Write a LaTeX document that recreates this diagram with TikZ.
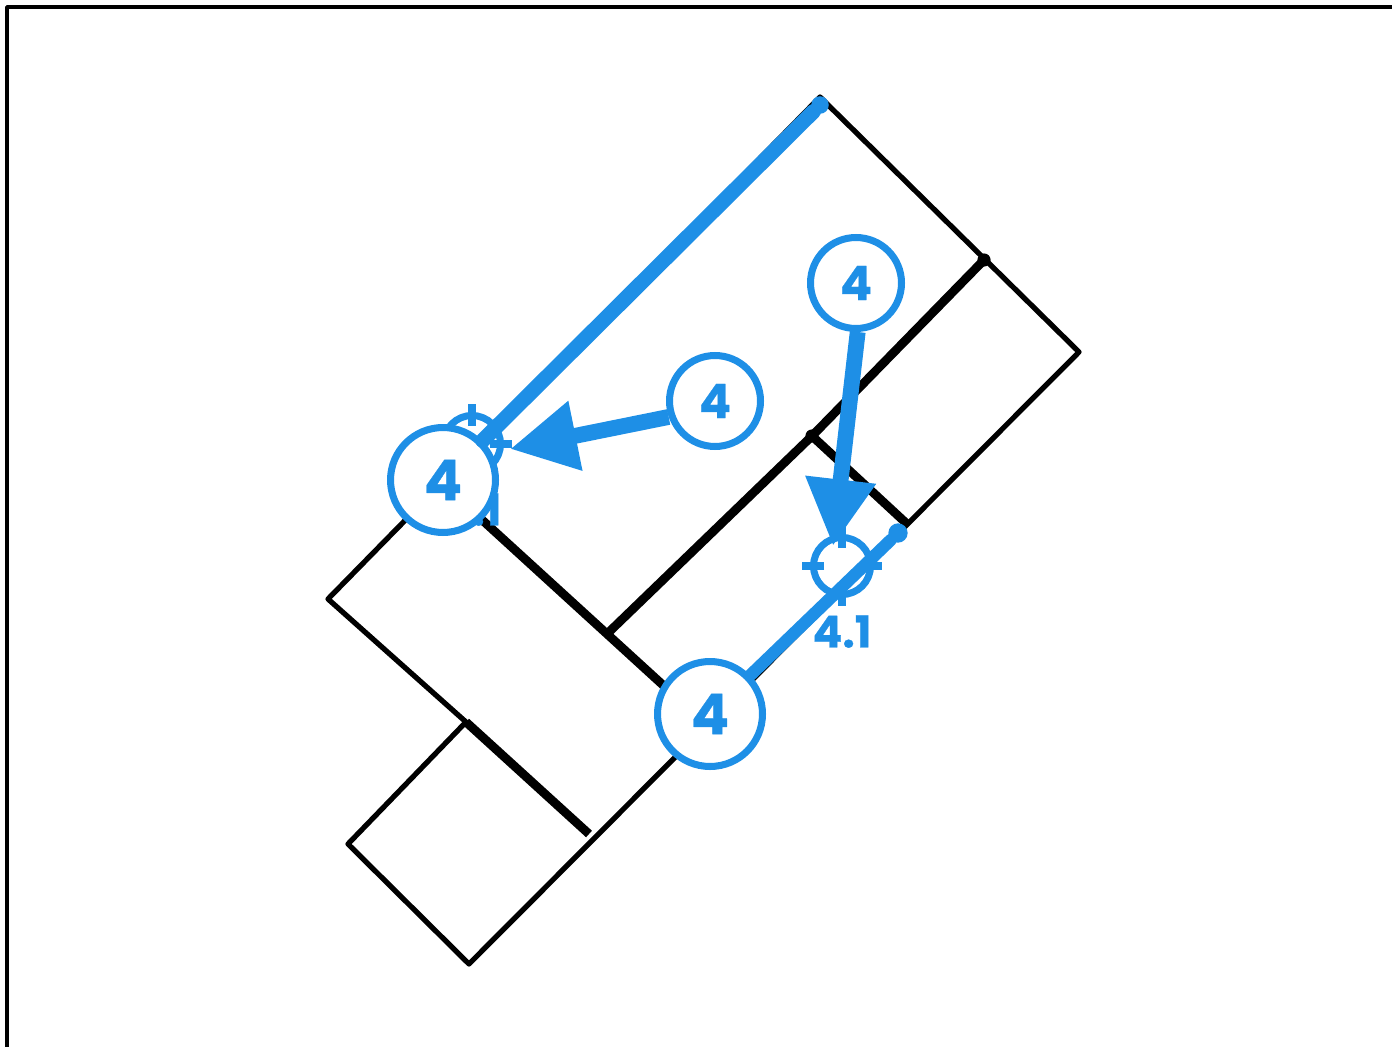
\documentclass[tikz,border=0pt]{standalone}
\usepackage{fontspec}
\setsansfont{Poppins}[BoldFeatures={FakeBold=0.6}]
\usetikzlibrary{arrows.meta,positioning}
\definecolor{markblue}{HTML}{1E8FE6}

\begin{document}
\begin{tikzpicture}[x=0.02cm,y=-0.02cm,line join=round,
        thinwall/.style={draw=black, line width=3pt},
        thickwall/.style={draw=black, line width=5pt},
        jointdot/.style={circle, fill=black, inner sep=0pt, minimum width=7.5pt},
        badge/.style={circle, draw=markblue, fill=white, line width=4pt, inner sep=0pt,
                        text=markblue, font=\sffamily\bfseries\fontsize{27}{27}\selectfont, minimum size=1.82cm},
        bigbadge/.style={badge, font=\sffamily\bfseries\fontsize{32}{32}\selectfont, minimum size=2.10cm},
        target/.style={circle, draw=markblue, line width=4pt, inner sep=0pt, minimum size=1.14cm},
        targettick/.style={draw=markblue, line width=4.2pt},
        targetlabel/.style={text=markblue, inner sep=0pt, font=\sffamily\bfseries\fontsize{25}{25}\selectfont},
        leader/.style={draw=markblue, line width=9pt, -{Triangle[length=38pt,width=38pt]}},
        span/.style={draw=markblue, line cap=round},
        spandot/.style={circle, fill=markblue, inner sep=0pt}]
    \useasboundingbox (0,0) rectangle (1392,1047);
    \draw[black, line width=2pt] (7,1047) -- (7,7) -- (1392,7);

    % walls
    \coordinate (top) at (820,97);
    \coordinate (east) at (1079,352);
    \coordinate (south) at (469,964);
    \coordinate (swest) at (348,844);
    \coordinate (west) at (328,599);
    \coordinate (stub) at (466,722);
    \coordinate (stubend) at (589,834);
    \coordinate (inner) at (480,518);
    \coordinate (innerend) at (664,686);
    \coordinate (tee) at (609,632);
    \coordinate (knee) at (812,436);
    \coordinate (ridge) at (984,260);
    \coordinate (jamb) at (906,523);
    \draw[thinwall] (top) -- (east) -- (south) -- (swest) -- (stub) -- (west) -- cycle;
    \draw[thickwall] (stub) -- (stubend);
    \draw[thickwall] (inner) -- (innerend);
    \draw[thickwall] (tee) -- (knee) -- (ridge);
    \draw[thickwall] (knee) -- (jamb);
    \node[jointdot] at (ridge) {};
    \node[jointdot] at (knee) {};

    % targets
    \node[target] (t1) at (472,444) {};
    \node[target] (t2) at (842,566) {};
    \foreach \t in {t1,t2} {
        \foreach \a in {0,90,180,270} {
            \draw[targettick] ([shift={(\a:18)}]\t.center) -- ([shift={(\a:40)}]\t.center);
        }
    }
    \node[targetlabel, below=0.34cm of t1] (l1) {4.1};
    \node[targetlabel, below=0.34cm of t2] (l2) {4.1};

    % badges
    \node[bigbadge] (b1) at (443,480) {4};
    \node[badge] (b2) at (715,401) {4};
    \node[badge] (b3) at (856,283) {4};
    \node[bigbadge] (b4) at (710,714) {4};

    \coordinate (tip1) at (510,449);
    \coordinate (tip2) at (833,546);
    \node[spandot, minimum width=10pt] (d1) at (820,105) {};
    \node[spandot, minimum width=11pt] (d2) at (898,533) {};
    \draw[span, line width=8.5pt] (b1) -- (d1);
    \draw[span, line width=7pt] (b4) -- (d2);
    \draw[leader] (b2.199) -- (tip1);
    \draw[leader] (b3.-88) -- (tip2);
\end{tikzpicture}
\end{document}
